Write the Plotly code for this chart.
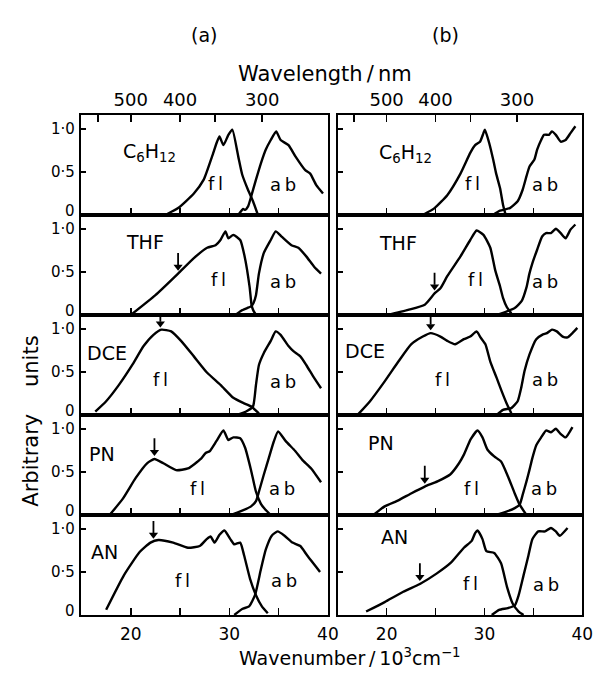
import numpy as np
import plotly.graph_objects as go

# ---------------- data (wavenumber / 10^3 cm^-1, arbitrary units) ----------------
solvents = ["C<sub>6</sub>H<sub>12</sub>", "THF", "DCE", "PN", "AN"]

# column (a)
a_c6_fl_x = [23.5, 24.8, 26.4, 27.4, 28.25, 28.75, 29.0, 29.4, 29.9, 30.3, 30.9, 31.3, 31.9, 32.4, 32.9]
a_c6_fl_y = [0.0, 0.08, 0.25, 0.41, 0.68, 0.85, 0.91, 0.81, 0.93, 0.99, 0.68, 0.47, 0.29, 0.16, 0.0]
a_c6_ab_x = [30.9, 31.4, 31.6, 31.9, 32.2, 32.7, 33.2, 33.7, 34.2, 34.75, 35.2, 36.0, 36.7, 37.7, 38.2, 38.8, 39.5]
a_c6_ab_y = [0.0, 0.07, 0.06, 0.1, 0.21, 0.41, 0.6, 0.76, 0.87, 0.97, 0.87, 0.81, 0.68, 0.52, 0.48, 0.35, 0.25]

a_thf_fl_x = [20.0, 22.5, 24.8, 26.4, 27.75, 28.6, 29.1, 29.6, 29.9, 30.4, 31.1, 31.55, 32.05, 32.25, 32.4, 32.7]
a_thf_fl_y = [0.0, 0.23, 0.48, 0.66, 0.78, 0.81, 0.87, 0.97, 0.89, 0.93, 0.87, 0.68, 0.33, 0.12, 0.06, 0.0]
a_thf_ab_x = [30.6, 31.2, 31.8, 32.2, 32.45, 32.7, 33.0, 33.5, 34.2, 34.7, 35.3, 36.3, 37.0, 37.8, 38.6, 39.3]
a_thf_ab_y = [0.0, 0.05, 0.08, 0.1, 0.14, 0.23, 0.48, 0.72, 0.87, 0.97, 0.91, 0.81, 0.78, 0.68, 0.56, 0.48]

a_dce_fl_x = [16.4, 17.5, 18.8, 20.2, 21.3, 22.3, 23.1, 24.1, 25.1, 26.4, 27.75, 29.1, 30.4, 31.4, 32.2, 33.0]
a_dce_fl_y = [0.04, 0.16, 0.35, 0.59, 0.8, 0.93, 0.99, 0.97, 0.86, 0.68, 0.49, 0.35, 0.2, 0.14, 0.1, 0.02]
a_dce_ab_x = [30.7, 31.7, 32.4, 32.7, 33.0, 33.5, 34.2, 34.7, 35.2, 36.0, 36.5, 37.2, 37.8, 38.6, 39.3]
a_dce_ab_y = [0.0, 0.04, 0.1, 0.35, 0.58, 0.72, 0.86, 0.97, 0.93, 0.8, 0.74, 0.68, 0.58, 0.43, 0.31]

a_pn_fl_x = [17.85, 19.2, 20.5, 21.65, 22.4, 23.3, 24.6, 25.8, 27.1, 27.6, 28.0, 28.7, 29.4, 29.9, 30.4,
             31.1, 31.6, 32.2, 32.7, 33.2, 33.6, 34.2]
a_pn_fl_y = [0.0, 0.19, 0.43, 0.6, 0.65, 0.6, 0.52, 0.54, 0.65, 0.72, 0.74, 0.86, 0.98, 0.87, 0.9,
             0.89, 0.78, 0.52, 0.27, 0.13, 0.07, 0.0]
a_pn_ab_x = [30.1, 31.05, 32.2, 32.7, 33.0, 33.5, 34.0, 34.5, 34.95, 35.7, 36.7, 37.4, 38.3, 39.3]
a_pn_ab_y = [0.0, 0.04, 0.1, 0.16, 0.27, 0.47, 0.66, 0.85, 0.97, 0.86, 0.74, 0.64, 0.54, 0.38]

a_an_fl_x = [17.5, 19.3, 20.9, 22.0, 22.8, 24.3, 25.8, 27.0, 27.7, 28.1, 28.5, 29.0, 29.5, 30.1, 30.5,
             31.1, 31.5, 32.1, 32.7, 33.3, 33.9]
a_an_fl_y = [0.06, 0.46, 0.73, 0.84, 0.87, 0.84, 0.78, 0.8, 0.88, 0.91, 0.84, 0.93, 0.98, 0.88, 0.82,
             0.84, 0.69, 0.42, 0.23, 0.1, 0.02]
a_an_ab_x = [30.5, 31.3, 32.0, 32.6, 33.2, 33.7, 34.3, 34.9, 35.6, 36.4, 37.2, 37.9, 39.2]
a_an_ab_y = [0.0, 0.07, 0.1, 0.23, 0.53, 0.76, 0.92, 0.97, 0.92, 0.84, 0.8, 0.69, 0.5]

# column (b)
b_c6_fl_x = [23.7, 24.9, 26.2, 27.55, 28.55, 29.05, 29.55, 29.9, 30.05, 30.5, 30.9, 31.2, 31.6, 31.9, 32.15]
b_c6_fl_y = [0.0, 0.08, 0.23, 0.48, 0.72, 0.81, 0.85, 0.95, 0.99, 0.83, 0.64, 0.48, 0.31, 0.12, 0.01]
b_c6_ab_x = [30.85, 31.6, 32.6, 33.4, 33.9, 34.3, 34.6, 35.1, 35.4, 35.8, 36.1, 36.6, 36.9, 37.3, 37.8,
             38.3, 38.8, 39.3]
b_c6_ab_y = [0.0, 0.05, 0.08, 0.16, 0.29, 0.45, 0.56, 0.64, 0.76, 0.87, 0.93, 0.93, 0.97, 0.93, 0.85,
             0.87, 0.95, 1.03]

b_thf_fl_x = [20.0, 22.2, 23.9, 24.9, 25.5, 26.2, 27.55, 28.55, 29.2, 29.9, 30.6, 31.1, 31.6, 31.9, 32.3, 32.75]
b_thf_fl_y = [0.0, 0.06, 0.12, 0.25, 0.31, 0.45, 0.68, 0.87, 0.98, 0.93, 0.78, 0.52, 0.33, 0.2, 0.09, 0.02]
b_thf_ab_x = [31.2, 32.25, 33.1, 33.8, 34.3, 34.6, 34.9, 35.4, 35.9, 36.3, 36.8, 37.3, 37.8, 38.3, 38.8, 39.3]
b_thf_ab_y = [0.0, 0.04, 0.08, 0.16, 0.32, 0.48, 0.6, 0.76, 0.91, 0.95, 0.95, 1.0, 0.95, 0.89, 0.99, 1.05]

b_dce_fl_x = [17.1, 18.3, 19.8, 21.2, 22.5, 23.7, 24.5, 25.5, 26.2, 27.0, 27.9, 28.55, 29.2, 29.6, 30.1,
              30.6, 31.25, 31.75, 32.25, 32.75]
b_dce_fl_y = [0.01, 0.16, 0.39, 0.62, 0.82, 0.91, 0.95, 0.91, 0.86, 0.82, 0.88, 0.91, 0.97, 0.9, 0.82,
              0.62, 0.43, 0.28, 0.14, 0.02]
b_dce_ab_x = [31.25, 31.9, 32.75, 33.4, 33.75, 34.1, 34.6, 35.3, 35.9, 36.4, 36.9, 37.4, 38.0, 38.5, 39.0, 39.5]
b_dce_ab_y = [0.0, 0.06, 0.08, 0.16, 0.31, 0.51, 0.7, 0.88, 0.93, 0.95, 0.99, 0.97, 0.91, 0.9, 0.95, 1.01]

b_pn_fl_x = [18.65, 19.8, 21.2, 22.5, 23.9, 25.2, 26.5, 27.4, 27.9, 28.6, 29.3, 29.8, 30.3, 31.0, 31.7,
             32.4, 33.1, 33.6, 34.3]
b_pn_fl_y = [0.0, 0.1, 0.17, 0.25, 0.33, 0.39, 0.47, 0.6, 0.7, 0.88, 0.98, 0.9, 0.76, 0.68, 0.62,
             0.45, 0.25, 0.12, 0.0]
b_pn_ab_x = [31.1, 32.25, 33.1, 33.6, 33.9, 34.3, 34.6, 34.9, 35.3, 35.8, 36.3, 36.8, 37.3, 37.8, 38.3, 39.0]
b_pn_ab_y = [0.0, 0.04, 0.08, 0.12, 0.23, 0.39, 0.52, 0.66, 0.81, 0.9, 0.98, 0.96, 1.0, 0.94, 0.9, 1.02]

b_an_fl_x = [17.9, 19.8, 21.7, 23.4, 25.1, 26.6, 27.9, 28.7, 29.05, 29.3, 29.8, 30.2, 31.0, 31.7, 32.3,
             32.9, 33.5, 34.0]
b_an_fl_y = [0.04, 0.15, 0.27, 0.36, 0.48, 0.61, 0.78, 0.86, 0.95, 0.98, 0.88, 0.74, 0.72, 0.6, 0.33,
             0.13, 0.04, 0.0]
b_an_ab_x = [30.75, 31.5, 32.4, 33.1, 33.5, 34.0, 34.5, 34.9, 35.5, 36.2, 36.8, 37.3, 37.7, 38.5]
b_an_ab_y = [0.0, 0.06, 0.08, 0.11, 0.23, 0.46, 0.69, 0.88, 0.97, 0.97, 1.01, 0.97, 0.92, 1.01]

# arrow positions (wavenumber) on the fl curves; None = no arrow
a_arrow_x = [None, 24.8, 23.0, 22.4, 22.3]
b_arrow_x = [None, 24.9, 24.5, 23.9, 23.4]

# axis ticks
wl_major = [500, 400, 300]          # nm, labelled
wl_minor = [600, 350]               # nm, unlabelled
wn_major = [20, 30, 40]             # 10^3 cm^-1, labelled
wn_minor = [25, 35]
y_tickvals = [0, 0.5, 1.0]
y_ticktext = ["0", "0\u00b75", "1\u00b70"]

col_a = [(a_c6_fl_x, a_c6_fl_y, a_c6_ab_x, a_c6_ab_y),
         (a_thf_fl_x, a_thf_fl_y, a_thf_ab_x, a_thf_ab_y),
         (a_dce_fl_x, a_dce_fl_y, a_dce_ab_x, a_dce_ab_y),
         (a_pn_fl_x, a_pn_fl_y, a_pn_ab_x, a_pn_ab_y),
         (a_an_fl_x, a_an_fl_y, a_an_ab_x, a_an_ab_y)]
col_b = [(b_c6_fl_x, b_c6_fl_y, b_c6_ab_x, b_c6_ab_y),
         (b_thf_fl_x, b_thf_fl_y, b_thf_ab_x, b_thf_ab_y),
         (b_dce_fl_x, b_dce_fl_y, b_dce_ab_x, b_dce_ab_y),
         (b_pn_fl_x, b_pn_fl_y, b_pn_ab_x, b_pn_ab_y),
         (b_an_fl_x, b_an_fl_y, b_an_ab_x, b_an_ab_y)]
columns = [col_a, col_b]
arrows = [a_arrow_x, b_arrow_x]

# ---------------- layout geometry (pixels) ----------------
W, H = 605, 684
COL_PX = [(83, 334), (344, 593)]
ROW_TOP, ROW_H = 115, 100
XR = [15, 40]
YR = [0, 1.16]
FONT = "DejaVu Sans"
ARROW_LEN = 0.20     # arrow length in y units (~17 px)
ARROW_GAP = 0.04

# label placements inside panels (data coords): solvent label, fl, ab
label_pos = [
    [dict(s=(19.0, 0.73), fl=(28.6, 0.37), ab=(35.4, 0.35)),
     dict(s=(19.3, 0.85), fl=(28.9, 0.41), ab=(35.4, 0.39)),
     dict(s=(15.4, 0.72), fl=(23.0, 0.41), ab=(35.4, 0.39)),
     dict(s=(15.6, 0.71), fl=(26.8, 0.31), ab=(35.3, 0.31)),
     dict(s=(15.8, 0.73), fl=(25.2, 0.40), ab=(35.5, 0.40))],
    [dict(s=(19.0, 0.71), fl=(28.8, 0.37), ab=(36.2, 0.35)),
     dict(s=(19.0, 0.83), fl=(29.1, 0.41), ab=(36.2, 0.39)),
     dict(s=(15.5, 0.74), fl=(25.7, 0.41), ab=(36.2, 0.41)),
     dict(s=(17.9, 0.84), fl=(28.7, 0.31), ab=(36.1, 0.31)),
     dict(s=(19.2, 0.90), fl=(28.6, 0.36), ab=(36.3, 0.35))],
]

fig = go.Figure()
annotations = []
layout = {}
txt_font = dict(size=18, family=FONT, color="black")
lab_font = dict(size=19, family=FONT, color="black")

for c in range(2):
    for r in range(5):
        k = r * 2 + c + 1
        xs = "" if k == 1 else str(k)
        fx, fy, bx, by = columns[c][r]
        for xx, yy in ((fx, fy), (bx, by)):
            fig.add_trace(go.Scatter(x=xx, y=yy, mode="lines", xaxis="x" + xs, yaxis="y" + xs,
                                     line=dict(color="black", width=2.4, shape="spline", smoothing=0.5),
                                     hoverinfo="skip"))
        # arrow marking a position on the fl curve: shaft + head
        axv = arrows[c][r]
        if axv is not None:
            yh = float(np.interp(axv, fx, fy)) + ARROW_GAP
            fig.add_trace(go.Scatter(x=[axv, axv], y=[yh + ARROW_LEN, yh + 0.06], mode="lines",
                                     xaxis="x" + xs, yaxis="y" + xs, cliponaxis=False,
                                     line=dict(color="black", width=1.8), hoverinfo="skip"))
            fig.add_trace(go.Scatter(x=[axv], y=[yh + 0.04], mode="markers",
                                     xaxis="x" + xs, yaxis="y" + xs, cliponaxis=False,
                                     marker=dict(symbol="triangle-down", size=8, color="black"),
                                     hoverinfo="skip"))
        x0, x1 = COL_PX[c]
        top = ROW_TOP + r * ROW_H
        bot = top + ROW_H
        layout["xaxis" + xs] = dict(
            domain=[x0 / W, x1 / W], range=XR, anchor="y" + xs,
            showline=True, mirror=True, linecolor="black", linewidth=2,
            ticks="inside", ticklen=7, tickwidth=1.6, tickcolor="black",
            tickmode="array", tickvals=wn_major, ticktext=[str(v) for v in wn_major],
            minor=dict(tickmode="array", tickvals=wn_minor, ticks="inside", ticklen=7,
                       tickwidth=1.6, tickcolor="black", showgrid=False),
            showticklabels=(r == 4), ticklabelstandoff=3,
            tickfont=dict(size=17, family=FONT, color="black"),
            showgrid=False, zeroline=False, fixedrange=True)
        layout["yaxis" + xs] = dict(
            domain=[1 - bot / H, 1 - top / H], range=YR, anchor="x" + xs,
            showline=True, mirror=True, linecolor="black", linewidth=2,
            ticks="inside", ticklen=5, tickwidth=1.6, tickcolor="black",
            tickmode="array", tickvals=y_tickvals, showticklabels=False,
            showgrid=False, zeroline=False, fixedrange=True)

        # y tick labels (left column only) as text, nudged so stacked labels do not collide
        if c == 0:
            for v, t in zip(y_tickvals, y_ticktext):
                annotations.append(dict(x=(x0 - 5) / W, y=v, xref="paper", yref="y" + xs, text=t,
                                        showarrow=False, xanchor="right", yanchor="middle",
                                        yshift=(4 if v == 0 else 0),
                                        font=dict(size=15, family=FONT, color="black")))

        lp = label_pos[c][r]
        sx, sy = lp["s"]
        annotations.append(dict(x=sx, y=sy, xref="x" + xs, yref="y" + xs, text=solvents[r],
                                showarrow=False, xanchor="left", yanchor="middle", font=lab_font))
        for key, txt in (("fl", "f\u2009l"), ("ab", "a\u2009b")):
            tx, ty = lp[key]
            annotations.append(dict(x=tx, y=ty, xref="x" + xs, yref="y" + xs, text=txt,
                                    showarrow=False, xanchor="center", yanchor="middle", font=txt_font))

# top wavelength axes (overlaying the top row)
for c in range(2):
    base = "" if c == 0 else "2"
    name = str(11 + c)
    x0, x1 = COL_PX[c]
    fig.add_trace(go.Scatter(x=[20], y=[None], xaxis="x" + name, yaxis="y" + base,
                             mode="lines", showlegend=False, hoverinfo="skip"))
    layout["xaxis" + name] = dict(
        domain=[x0 / W, x1 / W], range=XR, anchor="y" + base, overlaying="x" + base, side="top",
        showline=False, ticks="inside", ticklen=7, tickwidth=1.6, tickcolor="black",
        tickmode="array", tickvals=[1e4 / w for w in wl_major], ticktext=[str(w) for w in wl_major],
        minor=dict(tickmode="array", tickvals=[1e4 / w for w in wl_minor], ticks="inside",
                   ticklen=7, tickwidth=1.6, tickcolor="black", showgrid=False),
        ticklabelstandoff=4, tickfont=dict(size=18, family=FONT, color="black"),
        showgrid=False, zeroline=False, fixedrange=True)

# titles
annotations += [
    dict(x=208 / W, y=1 - 22 / H, xref="paper", yref="paper", text="(a)", showarrow=False,
         font=dict(size=19, family=FONT, color="black")),
    dict(x=470 / W, y=1 - 22 / H, xref="paper", yref="paper", text="(b)", showarrow=False,
         font=dict(size=19, family=FONT, color="black")),
    dict(x=331 / W, y=1 - 60 / H, xref="paper", yref="paper", text="Wavelength\u2009/\u2009nm",
         showarrow=False, font=dict(size=21, family=FONT, color="black")),
    dict(x=356 / W, y=1 - 671 / H, xref="paper", yref="paper",
         text="Wavenumber\u2009/\u200910<sup>3</sup>cm<sup>\u22121</sup>",
         showarrow=False, font=dict(size=19, family=FONT, color="black")),
    dict(x=17 / W, y=1 - 421 / H, xref="paper", yref="paper",
         text="Arbitrary\u00a0\u00a0\u00a0\u00a0units", textangle=-90,
         showarrow=False, font=dict(size=21, family=FONT, color="black")),
]

fig.update_layout(width=W, height=H, margin=dict(l=0, r=0, t=0, b=0),
                  paper_bgcolor="white", plot_bgcolor="white", showlegend=False,
                  font=dict(family=FONT, color="black"), annotations=annotations, **layout)

# no mode bar; remove the default page margin so the 605x684 figure fills the window exactly
fig.write_html("out.html",
               config=dict(displayModeBar=False, staticPlot=True),
               post_script="document.body.style.margin='0';document.body.style.overflow='hidden';")
